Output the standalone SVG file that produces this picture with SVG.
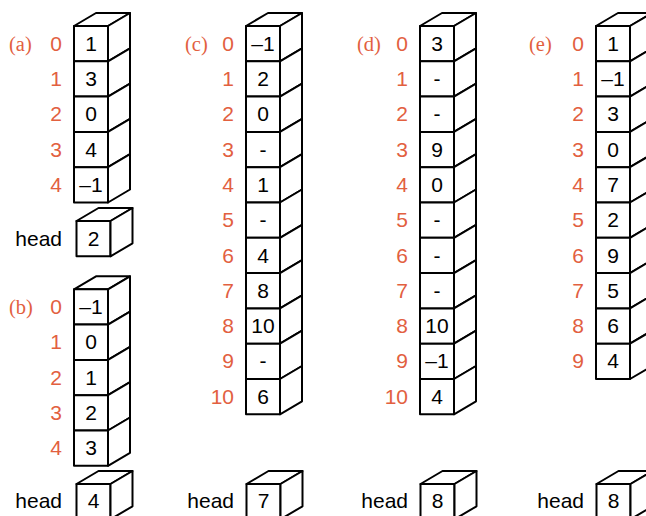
<svg xmlns="http://www.w3.org/2000/svg" width="646" height="516" viewBox="0 0 646 516">
<style>
.box{fill:#fff;stroke:#000;stroke-width:2;stroke-linejoin:round}
.val{font-family:"Liberation Sans",Arial,sans-serif;font-size:21px;fill:#000;text-anchor:middle}
.idx{font-family:"Liberation Sans",Arial,sans-serif;font-size:21px;fill:#E2603F;text-anchor:end}
.hd{font-family:"Liberation Sans",Arial,sans-serif;font-size:21px;fill:#000;text-anchor:end}
.lbl{font-family:"Liberation Serif","Times New Roman",serif;font-size:20.5px;fill:#E2603F}
</style>
<defs>
<g id="cell">
<rect class="box" x="0" y="0" width="34" height="35.3"/>
<path class="box" d="M34,0 L56,-13 L56,22.3 L34,35.3 Z"/>
</g>
<path id="top" class="box" d="M0,0 L22,-13 L56,-13 L34,0 Z"/>
</defs>
<rect width="646" height="516" fill="#fff"/>

<!-- (a) -->
<g id="colA">
<text class="lbl" x="9" y="50.7">(a)</text>
<use href="#top" x="74" y="26"/>
<g id="a0"><use href="#cell" x="74" y="26"/><text class="idx" x="62" y="50.7">0</text><text class="val" x="91" y="50.7">1</text></g>
<g id="a1"><use href="#cell" x="74" y="61.3"/><text class="idx" x="62" y="86">1</text><text class="val" x="91" y="86">3</text></g>
<g id="a2"><use href="#cell" x="74" y="96.6"/><text class="idx" x="62" y="121.3">2</text><text class="val" x="91" y="121.3">0</text></g>
<g id="a3"><use href="#cell" x="74" y="131.9"/><text class="idx" x="62" y="156.6">3</text><text class="val" x="91" y="156.6">4</text></g>
<g id="a4"><use href="#cell" x="74" y="167.2"/><text class="idx" x="62" y="191.9">4</text><text class="val" x="91" y="191.9">–1</text></g>
<g id="aHead"><use href="#top" x="76.5" y="221"/><use href="#cell" x="76.5" y="221"/><text class="hd" x="62" y="245.5">head</text><text class="val" x="93.5" y="245.5">2</text></g>
</g>

<!-- (b) -->
<g id="colB">
<text class="lbl" x="9" y="314">(b)</text>
<use href="#top" x="74" y="289.3"/>
<g id="b0"><use href="#cell" x="74" y="289.3"/><text class="idx" x="62" y="314">0</text><text class="val" x="91" y="314">–1</text></g>
<g id="b1"><use href="#cell" x="74" y="324.6"/><text class="idx" x="62" y="349.3">1</text><text class="val" x="91" y="349.3">0</text></g>
<g id="b2"><use href="#cell" x="74" y="359.9"/><text class="idx" x="62" y="384.6">2</text><text class="val" x="91" y="384.6">1</text></g>
<g id="b3"><use href="#cell" x="74" y="395.2"/><text class="idx" x="62" y="419.9">3</text><text class="val" x="91" y="419.9">2</text></g>
<g id="b4"><use href="#cell" x="74" y="430.5"/><text class="idx" x="62" y="455.2">4</text><text class="val" x="91" y="455.2">3</text></g>
<g id="bHead"><use href="#top" x="76.5" y="484"/><use href="#cell" x="76.5" y="484"/><text class="hd" x="62" y="508">head</text><text class="val" x="93.5" y="508">4</text></g>
</g>

<!-- (c) -->
<g id="colC">
<text class="lbl" x="185" y="50.7">(c)</text>
<use href="#top" x="246" y="26"/>
<g id="c0"><use href="#cell" x="246" y="26"/><text class="idx" x="234" y="50.7">0</text><text class="val" x="263" y="50.7">–1</text></g>
<g id="c1"><use href="#cell" x="246" y="61.3"/><text class="idx" x="234" y="86">1</text><text class="val" x="263" y="86">2</text></g>
<g id="c2"><use href="#cell" x="246" y="96.6"/><text class="idx" x="234" y="121.3">2</text><text class="val" x="263" y="121.3">0</text></g>
<g id="c3"><use href="#cell" x="246" y="131.9"/><text class="idx" x="234" y="156.6">3</text><text class="val" x="263" y="156.6">-</text></g>
<g id="c4"><use href="#cell" x="246" y="167.2"/><text class="idx" x="234" y="191.9">4</text><text class="val" x="263" y="191.9">1</text></g>
<g id="c5"><use href="#cell" x="246" y="202.5"/><text class="idx" x="234" y="227.2">5</text><text class="val" x="263" y="227.2">-</text></g>
<g id="c6"><use href="#cell" x="246" y="237.8"/><text class="idx" x="234" y="262.5">6</text><text class="val" x="263" y="262.5">4</text></g>
<g id="c7"><use href="#cell" x="246" y="273.1"/><text class="idx" x="234" y="297.8">7</text><text class="val" x="263" y="297.8">8</text></g>
<g id="c8"><use href="#cell" x="246" y="308.4"/><text class="idx" x="234" y="333.1">8</text><text class="val" x="263" y="333.1">10</text></g>
<g id="c9"><use href="#cell" x="246" y="343.7"/><text class="idx" x="234" y="368.4">9</text><text class="val" x="263" y="368.4">-</text></g>
<g id="c10"><use href="#cell" x="246" y="379"/><text class="idx" x="234" y="403.7">10</text><text class="val" x="263" y="403.7">6</text></g>
<g id="cHead"><use href="#top" x="246.5" y="484"/><use href="#cell" x="246.5" y="484"/><text class="hd" x="234" y="508">head</text><text class="val" x="263.5" y="508">7</text></g>
</g>

<!-- (d) -->
<g id="colD">
<text class="lbl" x="357" y="50.7">(d)</text>
<use href="#top" x="420" y="26"/>
<g id="d0"><use href="#cell" x="420" y="26"/><text class="idx" x="408" y="50.7">0</text><text class="val" x="437" y="50.7">3</text></g>
<g id="d1"><use href="#cell" x="420" y="61.3"/><text class="idx" x="408" y="86">1</text><text class="val" x="437" y="86">-</text></g>
<g id="d2"><use href="#cell" x="420" y="96.6"/><text class="idx" x="408" y="121.3">2</text><text class="val" x="437" y="121.3">-</text></g>
<g id="d3"><use href="#cell" x="420" y="131.9"/><text class="idx" x="408" y="156.6">3</text><text class="val" x="437" y="156.6">9</text></g>
<g id="d4"><use href="#cell" x="420" y="167.2"/><text class="idx" x="408" y="191.9">4</text><text class="val" x="437" y="191.9">0</text></g>
<g id="d5"><use href="#cell" x="420" y="202.5"/><text class="idx" x="408" y="227.2">5</text><text class="val" x="437" y="227.2">-</text></g>
<g id="d6"><use href="#cell" x="420" y="237.8"/><text class="idx" x="408" y="262.5">6</text><text class="val" x="437" y="262.5">-</text></g>
<g id="d7"><use href="#cell" x="420" y="273.1"/><text class="idx" x="408" y="297.8">7</text><text class="val" x="437" y="297.8">-</text></g>
<g id="d8"><use href="#cell" x="420" y="308.4"/><text class="idx" x="408" y="333.1">8</text><text class="val" x="437" y="333.1">10</text></g>
<g id="d9"><use href="#cell" x="420" y="343.7"/><text class="idx" x="408" y="368.4">9</text><text class="val" x="437" y="368.4">–1</text></g>
<g id="d10"><use href="#cell" x="420" y="379"/><text class="idx" x="408" y="403.7">10</text><text class="val" x="437" y="403.7">4</text></g>
<g id="dHead"><use href="#top" x="420.5" y="484"/><use href="#cell" x="420.5" y="484"/><text class="hd" x="408" y="508">head</text><text class="val" x="437.5" y="508">8</text></g>
</g>

<!-- (e) -->
<g id="colE">
<text class="lbl" x="529" y="50.7">(e)</text>
<use href="#top" x="596" y="26"/>
<g id="e0"><use href="#cell" x="596" y="26"/><text class="idx" x="584" y="50.7">0</text><text class="val" x="613" y="50.7">1</text></g>
<g id="e1"><use href="#cell" x="596" y="61.3"/><text class="idx" x="584" y="86">1</text><text class="val" x="613" y="86">–1</text></g>
<g id="e2"><use href="#cell" x="596" y="96.6"/><text class="idx" x="584" y="121.3">2</text><text class="val" x="613" y="121.3">3</text></g>
<g id="e3"><use href="#cell" x="596" y="131.9"/><text class="idx" x="584" y="156.6">3</text><text class="val" x="613" y="156.6">0</text></g>
<g id="e4"><use href="#cell" x="596" y="167.2"/><text class="idx" x="584" y="191.9">4</text><text class="val" x="613" y="191.9">7</text></g>
<g id="e5"><use href="#cell" x="596" y="202.5"/><text class="idx" x="584" y="227.2">5</text><text class="val" x="613" y="227.2">2</text></g>
<g id="e6"><use href="#cell" x="596" y="237.8"/><text class="idx" x="584" y="262.5">6</text><text class="val" x="613" y="262.5">9</text></g>
<g id="e7"><use href="#cell" x="596" y="273.1"/><text class="idx" x="584" y="297.8">7</text><text class="val" x="613" y="297.8">5</text></g>
<g id="e8"><use href="#cell" x="596" y="308.4"/><text class="idx" x="584" y="333.1">8</text><text class="val" x="613" y="333.1">6</text></g>
<g id="e9"><use href="#cell" x="596" y="343.7"/><text class="idx" x="584" y="368.4">9</text><text class="val" x="613" y="368.4">4</text></g>
<g id="eHead"><use href="#top" x="596.5" y="484"/><use href="#cell" x="596.5" y="484"/><text class="hd" x="584" y="508">head</text><text class="val" x="613.5" y="508">8</text></g>
</g>
</svg>
